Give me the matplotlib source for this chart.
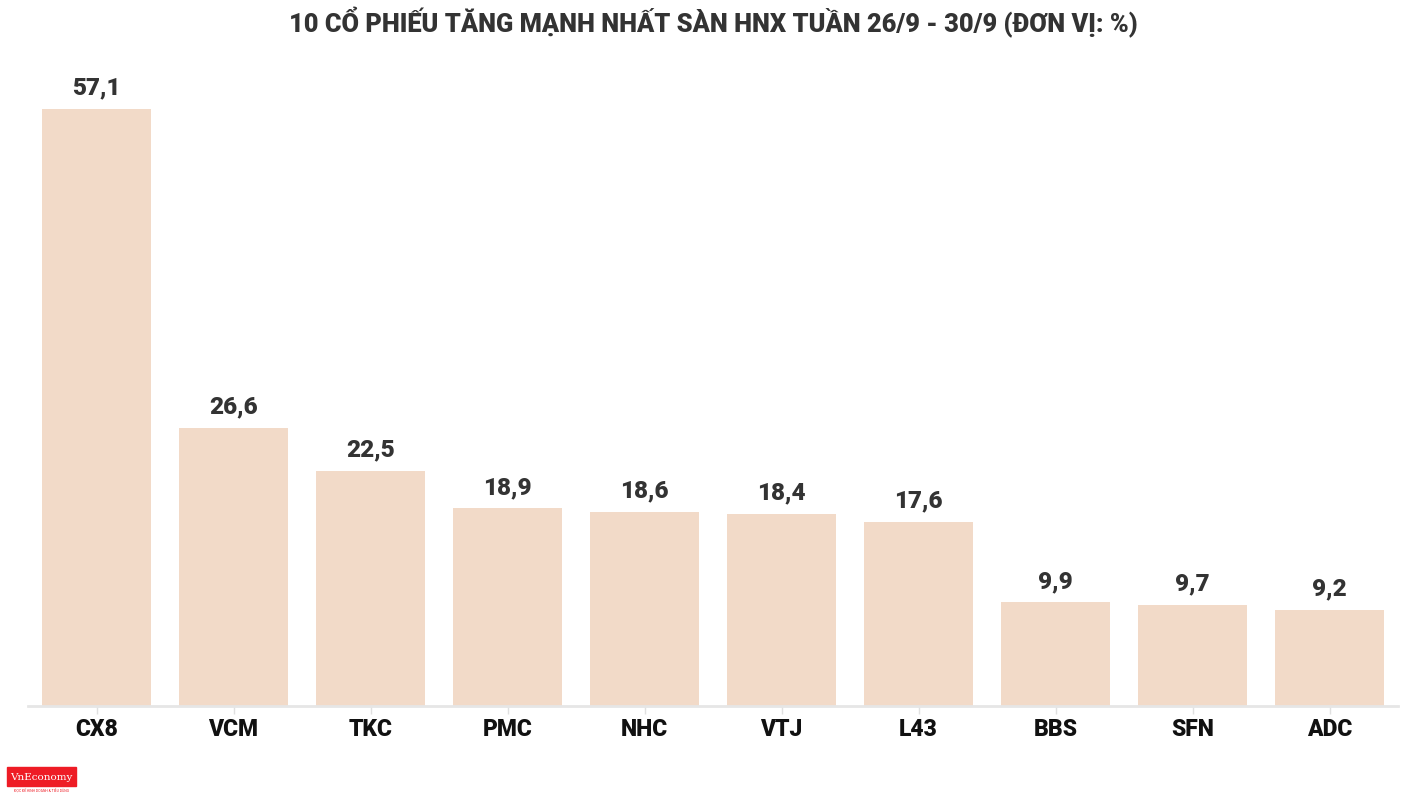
import matplotlib
matplotlib.use('Agg')
import matplotlib.pyplot as plt
from matplotlib.patches import Rectangle

# data
tickers = ['CX8', 'VCM', 'TKC', 'PMC', 'NHC', 'VTJ', 'L43', 'BBS', 'SFN', 'ADC']
gains = [57.1, 26.6, 22.5, 18.9, 18.6, 18.4, 17.6, 9.9, 9.7, 9.2]
title = '10 CỔ PHIẾU TĂNG MẠNH NHẤT SÀN HNX TUẦN 26/9 - 30/9 (ĐƠN VỊ: %)'

plt.rcParams['font.family'] = ['Roboto', 'DejaVu Sans']

fig = plt.figure(figsize=(14.26, 8.04), dpi=100)
ax = fig.add_axes([28/1426, 97/804, 1370/1426, 646/804])

x = range(len(tickers))
bars = ax.bar(x, gains, width=0.8, color='#f2dac8')
for i, v in enumerate(gains):
    ax.text(i, v + 1.0, ('%.1f' % v).replace('.', ','), ha='center', va='bottom',
            fontsize=17.5, fontweight='heavy', color='#333333')

ax.set_xlim(-0.5, len(tickers) - 0.5)
ax.set_ylim(0, 646 / 10.455)
ax.set_xticks(list(x))
ax.set_xticklabels(tickers, fontsize=16.5, fontweight='heavy', color='#111111')
ax.tick_params(axis='x', length=6, width=1, color='#e0e0e0', pad=2)
ax.set_yticks([])
for s in ['top', 'right', 'left']:
    ax.spines[s].set_visible(False)
ax.spines['bottom'].set_color('#e6e6e6')
ax.spines['bottom'].set_linewidth(2)

fig.text(0.5, 1 - 22/804, title, ha='center', va='center', fontsize=18.3,
         fontweight='heavy', color='#333333')

# logo
fig.patches.append(Rectangle((7/1426, 1 - 787/804), 69/1426, 19/804,
                             transform=fig.transFigure, color='#ee1c25'))
fig.text(41.5/1426, 1 - 778/804, 'VnEconomy', ha='center', va='center',
         fontsize=7.5, family='DejaVu Serif', color='white')
fig.text(41.5/1426, 1 - 791/804, 'ĐỌC ĐỂ KINH DOANH & TIÊU DÙNG', ha='center', va='center',
         fontsize=2.5, color='#ee1c25')

fig.savefig('out.png', dpi=100)
